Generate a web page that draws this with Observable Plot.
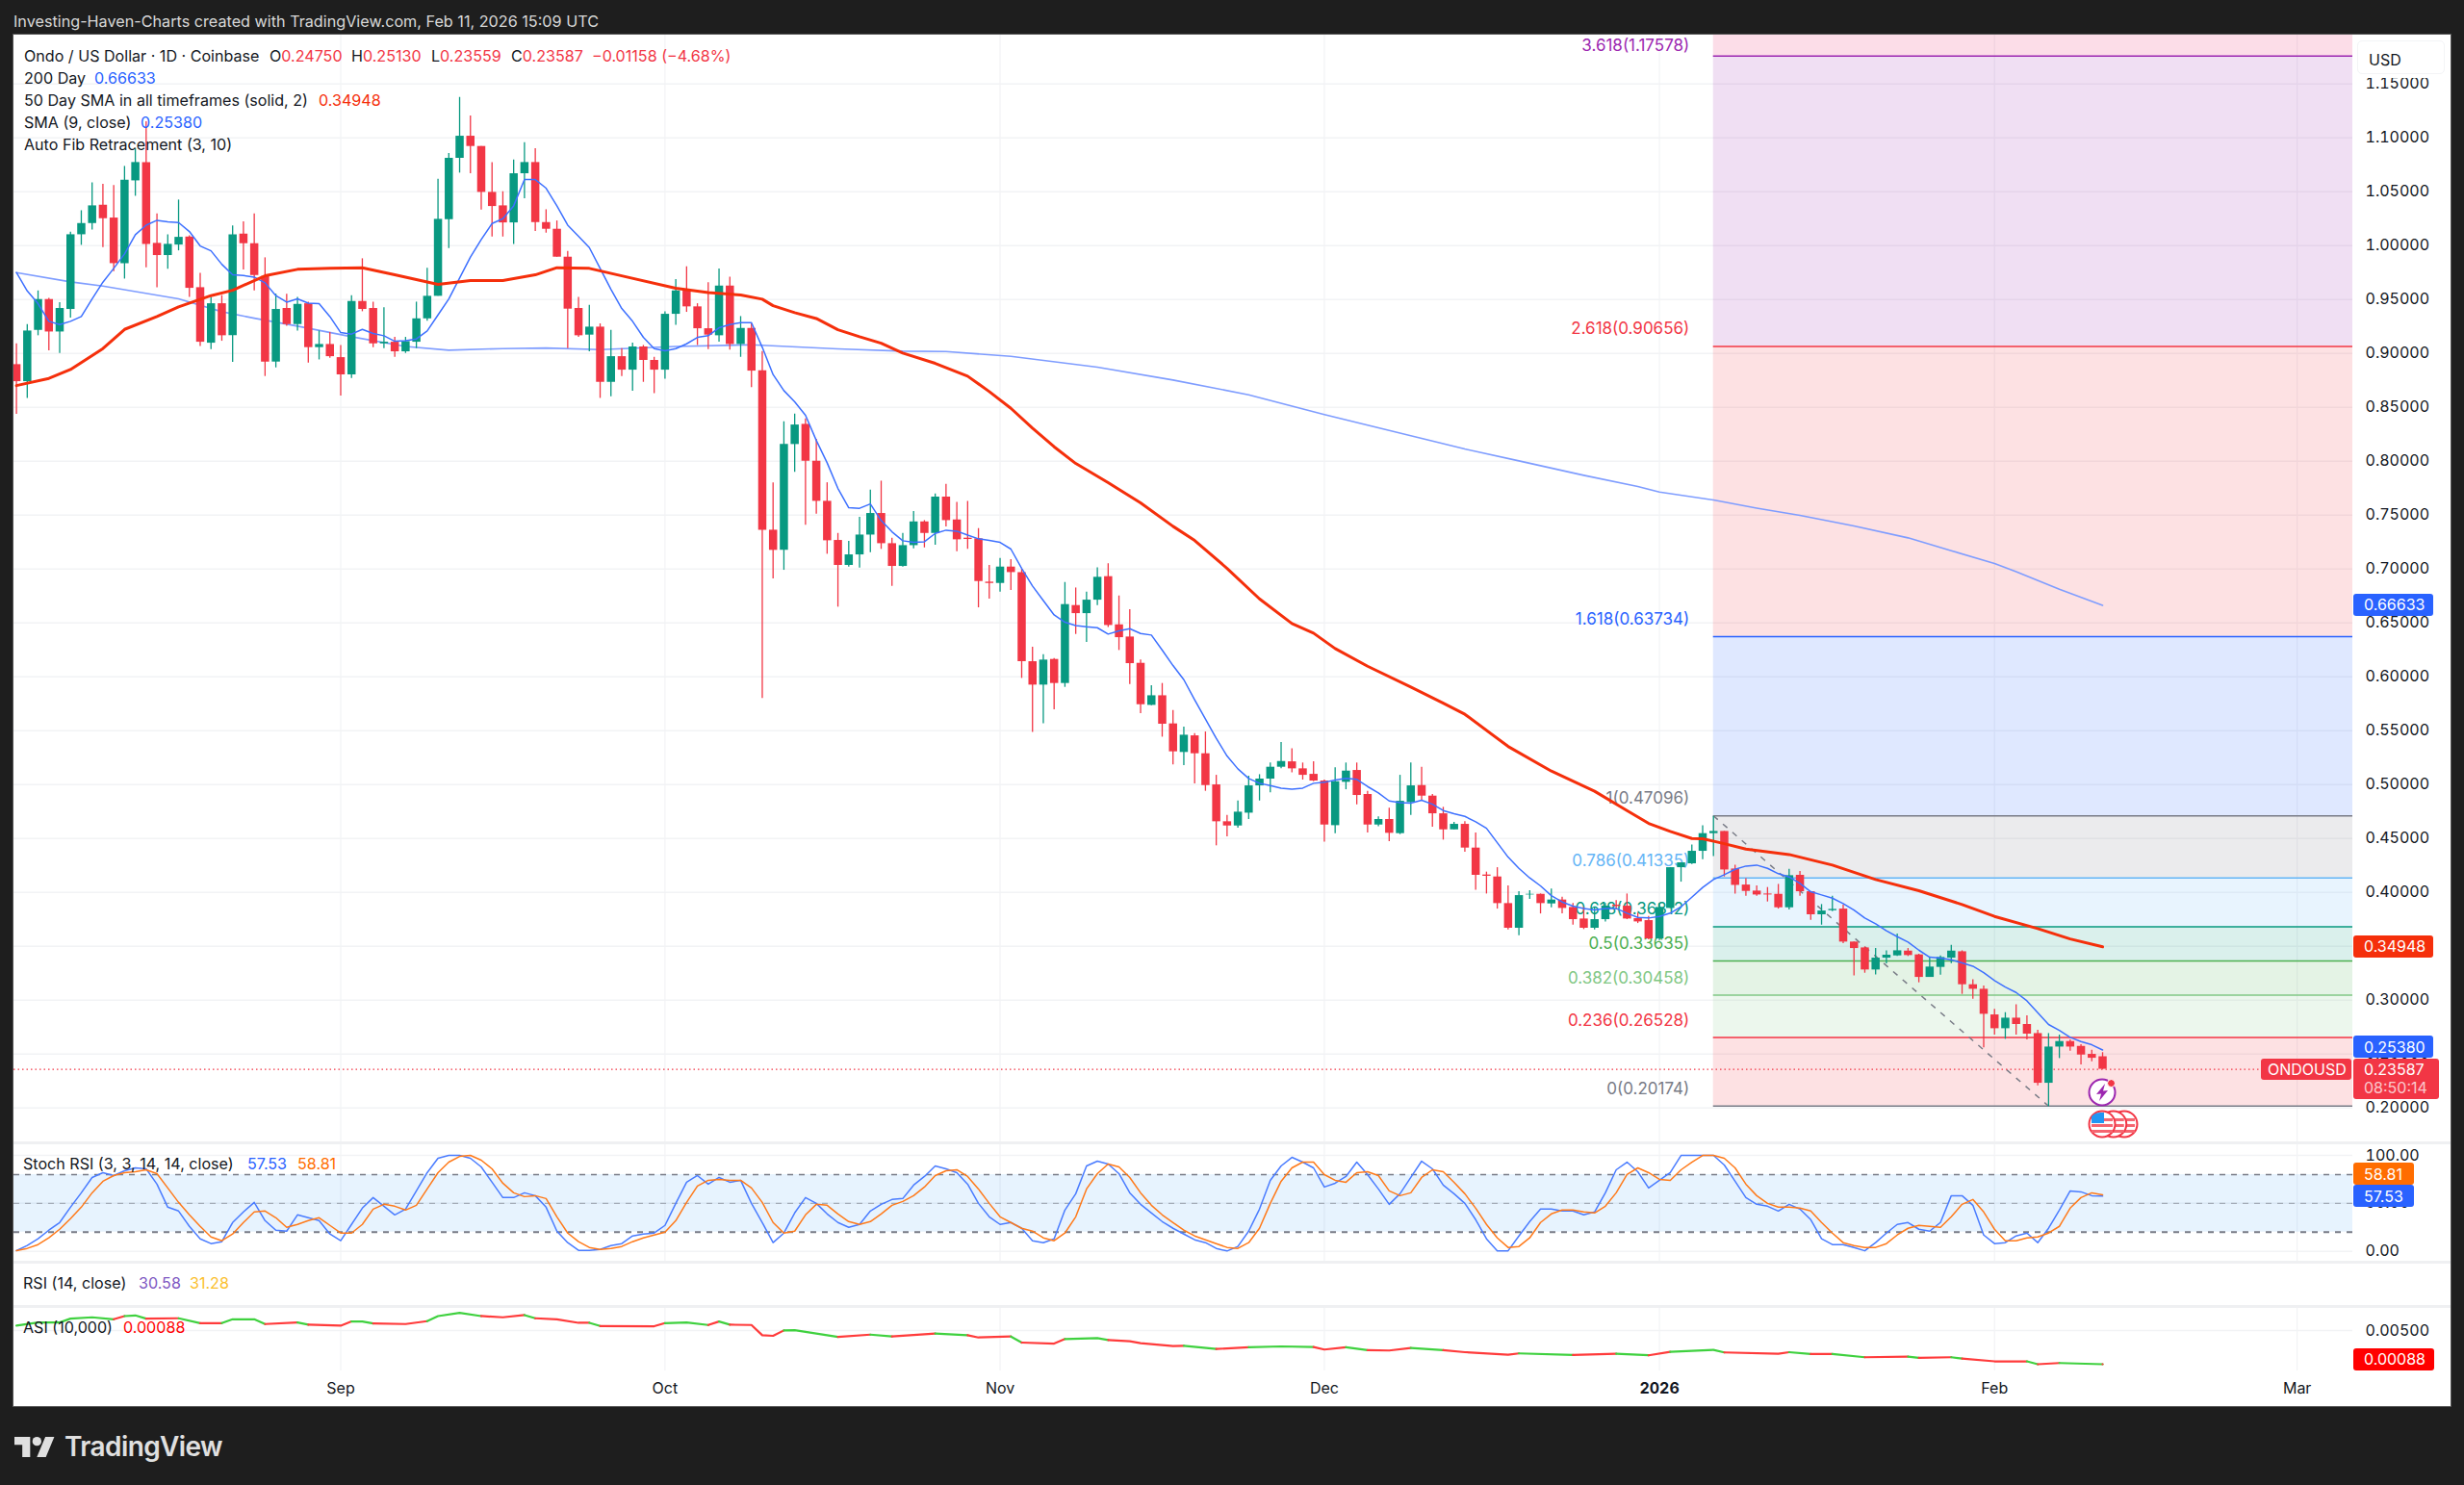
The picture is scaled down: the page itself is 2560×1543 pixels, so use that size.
<!DOCTYPE html>
<html><head><meta charset="utf-8">
<script src="https://cdn.jsdelivr.net/npm/d3@7"></script>
<script src="https://cdn.jsdelivr.net/npm/@observablehq/plot@0.6"></script>
<style>
html,body{margin:0;padding:0;background:#1e1e1e;}
#root{position:relative;width:2560px;height:1543px;overflow:hidden;background:#1e1e1e;font-family:Inter,"Liberation Sans",sans-serif;}
#frame{position:absolute;left:14px;top:36px;width:2532px;height:1425px;background:#fff;box-shadow:0 0 0 1px #555;}
.abs{position:absolute;white-space:nowrap;}
.lab{position:absolute;white-space:nowrap;transform:translateY(-50%);font-size:16.1px;color:#131722;line-height:1;}
.tag{position:absolute;white-space:nowrap;color:#fff;font-size:16px;border-radius:3px;display:flex;align-items:center;box-sizing:border-box;padding-left:11px;}
svg{display:block;}
.plot{position:absolute;}
</style></head><body><div id="root"><div id="frame"></div></div>
<script>
// ---------- daily candles, 2 Aug 2025 – 11 Feb 2026 ----------
const opens=[.8896,.8738,.9214,.95,.9199,.9408,1.0101,1.0205,1.0375,1.0256,
.9833,1.0601,1.0771,1.0021,.9908,1.0006,1.008,.961,.9095,.9461,
.9164,1.0107,1.0018,.9714,.892,.9417,.9268,.9461,.9054,.9083,
.8961,.8801,.9482,.9417,.9089,.9104,.9015,.9104,.9321,.953,
1.0241,1.081,1.1015,1.092,1.0494,1.0369,1.0211,1.0667,1.0771,1.0214,
1.0152,.9893,.9417,.917,.9244,.8732,.897,.8845,.906,.8935,
.8845,.9363,.958,.9432,.9229,.9164,.9625,.9083,.9232,.8839,
.736,.7173,.8155,.8342,.80,.7628,.7265,.7033,.7131,.7315,
.7515,.7235,.7024,.7217,.7437,.733,.7667,.7455,.7286,.728,
.6878,.6866,.7018,.6967,.614,.5923,.6161,.5938,.6661,.6586,
.6711,.6929,.6482,.6369,.6125,.5735,.5824,.5563,.5298,.5452,
.5286,.4997,.4655,.4616,.4735,.4988,.5051,.5161,.5211,.5146,
.5095,.5033,.4619,.5021,.5131,.4908,.4625,.4676,.4545,.4833,
.4991,.4893,.4729,.458,.4631,.4411,.4161,.4143,.3896,.3667,
.3976,.3982,.3893,.3929,.386,.3753,.3667,.3747,.3881,.3872,
.3756,.3738,.3568,.3851,.4229,.4265,.4381,.4545,.4565,.4217,
.4068,.4012,.3985,.3982,.3857,.4158,.4006,.3792,.383,.3845,
.3539,.3485,.328,.339,.3411,.3455,.342,.3211,.3304,.339,
.3449,.3143,.3101,.2863,.2735,.2833,.2774,.269,.2229,.2565,
.2616,.2571,.2497,.2475];
const highs=[.9089,.9268,.958,.9512,.947,1.0125,1.0324,1.0583,1.0568,1.0557,
1.0735,1.0899,1.1149,1.0295,1.0101,1.0423,1.0092,.9744,.952,.9536,
1.0182,1.022,1.0295,.9887,.955,.955,.952,.9476,.9208,.9193,
.9074,.9536,.9878,.9476,.9423,.9149,.9149,.9476,.9789,1.0616,
1.0854,1.1375,1.1202,1.092,1.0771,1.05,1.0795,1.0955,1.0899,1.0333,
1.0229,.9946,.952,.9446,.9274,.9214,.9045,.9095,.9074,.8964,
.9387,.9685,.9804,.9461,.9655,.9783,.9708,.9342,.9274,.9018,
.78,.8366,.8438,.8393,.8202,.78,.733,.7256,.7479,.7732,
.7815,.7286,.733,.7533,.7449,.7696,.7786,.7619,.7628,.7375,
.7033,.7098,.7086,.6997,.6274,.6205,.617,.6875,.6824,.6786,
.7012,.7048,.675,.6622,.6155,.5917,.5938,.5688,.5533,.5473,
.5488,.5086,.4714,.4848,.5077,.5092,.52,.539,.5333,.52,
.5211,.5042,.5155,.52,.52,.4938,.47,.478,.5086,.52,
.5161,.4908,.4789,.4649,.4655,.4551,.4188,.4229,.406,.4006,
.4015,.3985,.403,.3955,.3896,.386,.386,.3896,.3923,.3985,
.3807,.3777,.3896,.4229,.4274,.444,.4619,.4705,.4565,.4253,
.4128,.4059,.4045,.4074,.4214,.4193,.4006,.3887,.3964,.3881,
.3539,.3494,.3479,.3458,.3613,.3479,.3426,.339,.3411,.3509,
.3458,.319,.3131,.2914,.2884,.2958,.2854,.272,.269,.2676,
.2631,.2586,.2536,.2513];
const lows=[.8435,.8583,.9164,.9024,.90,.9327,1.0003,1.0146,.9982,.9759,
.969,1.0458,.9795,.961,.978,.9952,.952,.9065,.9036,.9113,
.8917,.9774,.958,.8786,.8866,.9253,.9208,.8911,.894,.8955,
.8604,.8768,.9387,.9054,.9045,.8964,.90,.9045,.9298,.953,
.9973,1.0673,1.0667,1.033,1.008,1.008,1.0012,1.0435,1.0131,1.0116,
.9893,.9045,.9149,.9015,.8583,.8598,.8786,.8649,.8732,.8628,
.8762,.9262,.9381,.9074,.9036,.9104,.903,.8964,.8682,.5798,
.6908,.6988,.7896,.7405,.7509,.7137,.6646,.7018,.7009,.7152,
.7182,.6839,.7018,.7188,.7196,.722,.739,.7161,.7182,.664,
.672,.6786,.6801,.5985,.5485,.5565,.5693,.5902,.6393,.6318,
.6661,.6458,.6244,.5929,.5658,.5732,.544,.5182,.5176,.5006,
.4938,.4432,.4515,.4595,.4676,.4848,.4923,.5146,.511,.5042,
.5027,.4467,.4545,.4952,.4812,.4551,.461,.447,.4536,.4714,
.4848,.4604,.4485,.458,.4372,.402,.3985,.3845,.3652,.3598,
.3935,.38,.3857,.38,.3696,.3655,.3652,.3726,.3836,.3747,
.3711,.356,.3554,.3851,.4095,.4259,.4304,.4333,.4143,.3985,
.3964,.3964,.3911,.3845,.3836,.3964,.3741,.3696,.3821,.3524,
.3226,.325,.3235,.3336,.3405,.3405,.3161,.3211,.3232,.3339,
.3054,.3009,.2557,.2676,.2637,.2676,.2631,.2205,.2012,.2458,
.2527,.2399,.2429,.23559];
const closes=[.8738,.9208,.95,.9199,.9417,1.0101,1.0205,1.0369,1.025,.9833,
1.0607,1.0771,1.0012,.9908,1.0012,1.0077,.9604,.9104,.9461,.9164,
1.0101,1.0018,.9723,.892,.9408,.9268,.9455,.9054,.9083,.897,
.8801,.9482,.9408,.9089,.9104,.9015,.911,.9321,.953,1.0244,
1.081,1.1015,1.092,1.0494,1.0363,1.0211,1.0667,1.0771,1.0214,1.0152,
.9893,.9411,.9164,.9244,.8732,.897,.8845,.906,.8935,.8845,
.9363,.958,.9432,.9229,.917,.9625,.9083,.9232,.8836,.736,
.7173,.8155,.8336,.80,.7628,.7262,.7033,.7131,.7315,.7515,
.7235,.7024,.7217,.7437,.733,.7667,.7449,.7271,.7274,.6884,
.6866,.7018,.6967,.614,.5923,.6155,.5938,.667,.6586,.6711,
.6923,.6476,.6363,.6122,.5741,.5824,.556,.5304,.5458,.5286,
.4991,.4655,.4616,.4744,.4988,.5051,.5161,.5214,.5146,.5086,
.5033,.4625,.5027,.5125,.4899,.4625,.4676,.4548,.4845,.4988,
.4893,.4729,.458,.4631,.4411,.4158,.4149,.3896,.3667,.397,
.3982,.3896,.3929,.3851,.3747,.3667,.3747,.3872,.3869,.3753,
.3726,.3568,.386,.4229,.4274,.4381,.4545,.4565,.4208,.4065,
.4009,.3976,.3976,.3857,.4155,.4006,.3792,.3827,.3842,.3539,
.3479,.328,.339,.3417,.3458,.3414,.3211,.3307,.3396,.3455,
.3143,.3101,.2869,.2735,.2833,.2774,.2685,.2229,.2565,.2616,
.2565,.2491,.2461,.23587];

// ---------- moving averages ----------
const sma9=[.975,.958,.9461,.9298,.9268,.9298,.9342,.9506,.9661,.9789,
.9923,1.0101,1.019,1.0235,1.022,1.0214,1.0131,.9997,.9952,.9827,
.9729,.9723,.9708,.9655,.9536,.9476,.9506,.9467,.9461,.9342,
.9193,.9179,.9223,.9185,.9164,.9113,.9119,.9134,.9208,.9357,
.9506,.97,.9893,1.0057,1.0205,1.025,1.0369,1.0613,1.0613,1.0533,
1.0369,1.019,1.0086,.9982,.9789,.9595,.9417,.9298,.9149,.9045,
.9024,.9045,.9089,.9149,.9164,.9238,.9268,.9286,.9286,.9057,
.8804,.8655,.8551,.8426,.8193,.7985,.7747,.7568,.7563,.7604,
.745,.7345,.7262,.7247,.7253,.733,.736,.7351,.7315,.728,
.7265,.7247,.7185,.7006,.6842,.6708,.6574,.6506,.6476,.6464,
.6455,.6396,.6426,.6446,.6402,.6387,.6247,.6104,.5973,.5786,
.5607,.5429,.5265,.5146,.5057,.5012,.4991,.4967,.4958,.4967,
.5012,.5021,.5042,.5057,.5048,.4982,.4923,.4848,.4833,.4827,
.4854,.4818,.4759,.4729,.4705,.4655,.4595,.4461,.4327,.4223,
.4134,.406,.397,.3911,.3872,.3851,.3836,.3851,.3851,.3807,
.3768,.3762,.3777,.3807,.3866,.3955,.4045,.4119,.4164,.4214,
.4244,.4253,.4223,.4173,.4143,.4083,.4006,.3976,.3946,.3896,
.3836,.3762,.3708,.3643,.3589,.3539,.3464,.3399,.339,.3375,
.3345,.3315,.3256,.3182,.3122,.3071,.2994,.2884,.2774,.272,
.2655,.2616,.2586,.2538];
const sma50Day=[-30,-27,-25,-22,-20,-17,-15,-12,-10,-7,-4,-1,2,5,9,12,15,18,20,23,26,31,34,37,39,40,42,44,46,48,50,52,55,58,60,62,64,66,68,71,74,77,79,82,85,88,90,92,95,99,102,104,108,112,116,119,121,123,125,126,128,130,134,138,142,146,150,153,157,160,163];
const sma50=[.8702,.8768,.8851,.9045,.9223,.9342,.9432,.9536,.9586,.972,.978,.9789,.9795,.9729,.964,.9676,.9676,.9729,.9795,.9789,.972,.9604,.9565,.9542,.9503,.9443,.9378,.9324,.922,.9155,.9095,.9003,.8908,.8789,.8646,.8491,.8307,.8134,.7979,.7801,.7613,.7396,.7265,.7006,.6723,.6494,.6405,.6262,.6098,.5905,.5756,.5652,.5354,.5125,.4938,.4759,.464,.4565,.45,.4497,.4452,.4402,.4351,.4253,.4119,.4015,.3887,.3777,.3664,.3568,.34948];
const sma200Day=[-30,-25,-22,-15,-11,-8,-4,1,6,10,15,19,24,31,38,46,52,56,62,70,77,84,91,100,104,109,115,120,122,127,131,135,140,145,149,153,155,159,163];
const sma200=[.975,.9664,.9625,.9506,.9387,.9327,.9253,.9155,.9065,.903,.9045,.905,.9036,.9065,.908,.9042,.9021,.9018,.8973,.8872,.8753,.8616,.8432,.8211,.8113,.8003,.7869,.7765,.7714,.764,.7565,.7497,.7399,.7289,.717,.7051,.6976,.6813,.66633];

// ---------- Auto Fib Retracement ----------
const fibLevel=["0","0.236","0.382","0.5","0.618","0.786","1","1.618","2.618","3.618"];
const fibPrice=[.20174,.26528,.30458,.33635,.36812,.41335,.47096,.63734,.90656,1.17578];
const fibColor=["#787B86","#F23645","#81C784","#4CAF50","#089981","#64B5F6","#787B86","#2962FF","#F23645","#9C27B0"];
const fibFill =["#F23645","#81C784","#4CAF50","#089981","#64B5F6","#787B86","#2962FF","#F23645","#9C27B0","#E91E63"];
const fibTrendDay=[127,158];

// ---------- Stoch RSI ----------
const stochK=[0.7,6,13,22,30,46,61,77,82,79,84,87,86,70,46,42,26,13,8,10,30,41,51,32,22,21,38,35,32,18,
11,28,45,56,47,38,44,63,82,97,100,100,97,88,72,56,56,61,58,46,21,9,1,1,2,6,8,16,18,19,27,50,72,79,
70,77,72,74,50,30,9,19,40,56,50,39,30,25,28,42,49,54,55,69,78,89,86,82,70,50,36,28,30,24,11,9,13,43,60,89,94,91,81,61,49,40,31,24,18,12,9,3,0.3,5,21,44,74,89,98,93,87,67,71,78,93,80,65,49,
60,77,94,86,69,60,50,33,13,0.5,0.5,16,31,44,44,42,42,38,41,61,85,93,83,66,74,82,100,100,100,100,90,73,56,49,47,42,49,44,33,13,7,7,4,0.5,9,19,28,30,23,21,30,58,58,48,17,8,9,16,19,9,24,43,63,62,58,57.53];
const stochD=[0.7,3,7,14,23,34,46,61,73,79,82,83,85,81,66,51,38,26,15,11,18,30,41,42,35,25,28,32,35,27,
19,19,28,44,49,47,43,48,65,82,93,99,100,95,86,71,61,57,58,55,36,19,10,4,2,3,5,10,14,17,20,32,51,68,
74,75,74,74,66,51,30,19,21,38,49,48,39,31,28,31,39,48,52,58,67,79,84,85,78,65,50,36,30,24,21,14,11,19,36,65,81,91,88,77,61,48,38,30,22,16,12,8,4,3,9,24,50,73,87,93,93,80,74,72,82,83,79,63,
58,61,77,85,83,72,60,45,28,14,4,5,14,30,39,43,43,41,40,47,61,80,87,82,75,74,85,93,100,100,97,87,70,58,50,46,46,45,42,30,19,9,6,4,4,8,17,24,27,26,25,36,49,54,41,23,11,11,14,15,19,26,45,56,61,58.81];

// ---------- ASI ----------
const asiDay=[-30,-28,-26,-25,-23,-21,-20,-19,-18,-15,-13,-11,-10,-8,-7,-4,-3,0,1,2,3,6,8,9,11,13,15,17,18,20,22,23,24,29,30,32,34,35,36,38,39,40,41,42,46,49,51,55,58,59,62,63,66,67,70,71,73,74,77,78,81,84,87,90,91,93,95,97,99,102,104,108,109,114,118,121,123,127,128,133,134,136,138,141,145,146,149,150,153,156,157,159,163];
const asiValue=[.00558,.00597,.00597,.00644,.0066,.00636,.00675,.00683,.00644,.00648,.00589,.00589,.00636,.00636,.00578,.00597,.0057,.00558,.00609,.00609,.00586,.00578,.00613,.00675,.00714,.00675,.0066,.00687,.00648,.00636,.00593,.00593,.00554,.00551,.00589,.00597,.00566,.00609,.0057,.00566,.00442,.00434,.005,.00504,.00422,.00449,.00426,.00461,.00442,.00414,.00426,.00352,.0034,.00395,.00407,.00383,.00368,.00344,.00309,.00313,.00274,.00294,.00305,.00298,.00267,.00294,.00259,.00255,.00286,.00259,.00235,.00204,.0022,.002,.00216,.00197,.00239,.00263,.00232,.00216,.00235,.00212,.00212,.00173,.00181,.00165,.00173,.00157,.00123,.00123,.00088,.00103,.00088];

// ---------- axes ----------
const priceTicks=[.2,.25,.3,.35,.4,.45,.5,.55,.6,.65,.7,.75,.8,.85,.9,.95,1,1.05,1.1,1.15];
const stochTicks=[0,50,100];
const asiTicks=[.005];
const monthDay=[0,30,61,91,122,153,181];            // days after 1 Sep 2025
const monthLabel=["Sep","Oct","Nov","Dec","2026","Feb","Mar"];

// ---------- helpers ----------
const sep1=Date.UTC(2025,8,1);
const at=d=>new Date(sep1+d*864e5);
const dayDomain=[at(-30.23),at(186.15)];
const FONT='Inter,"Liberation Sans",sans-serif';
const INK="#131722", GRID="#f2f3f5";
const GREEN="#089981", RED="#F23645";
const W=2532, MR=102;
const candles=opens.map((o,i)=>({d:at(i-30),o,h:highs[i],l:lows[i],c:closes[i],col:closes[i]>=o?GREEN:RED}));
const months=monthDay.map((d,i)=>({date:at(d),label:monthLabel[i]}));
const xOpt={domain:dayDomain,type:"utc",axis:null};
const root=document.getElementById("root");
function place(svg,top){svg.classList.add("plot");svg.style.left="14px";svg.style.top=top+"px";svg.style.background="transparent";svg.style.fontFamily=FONT;root.appendChild(svg);return svg;}
function lab(x,y,html,size){const d=document.createElement("div");d.className="lab";d.style.left=x+"px";d.style.top=y+"px";if(size)d.style.fontSize=size+"px";d.innerHTML=html;root.appendChild(d);return d;}
function tag(x,top,w,h,col,html){const d=document.createElement("div");d.className="tag";d.style.cssText=`left:${x}px;top:${top}px;width:${w}px;height:${h}px;background:${col}`;d.innerHTML=html;root.appendChild(d);return d;}
function bar(top,h,col){const d=document.createElement("div");d.className="abs";d.style.cssText=`left:14px;top:${top}px;width:2532px;height:${h}px;background:${col}`;root.appendChild(d);}

// ---------- main pane ----------
const fibBands=fibLevel.map((l,i)=>({y1:fibPrice[i],y2:i+1<fibPrice.length?fibPrice[i+1]:1.1953,fill:fibFill[i]}));
const fibLines=fibLevel.map((l,i)=>({y:fibPrice[i],color:fibColor[i],text:`${l}(${fibPrice[i].toFixed(5)})`}));
const fibStart=at(fibTrendDay[0]), fibEnd=dayDomain[1];
const iconDay=163, boltPrice=.2140, flagPrice=.1846;
function icons(index,{x,y}){
  const g=d3.create("svg:g");
  [2,1,0].forEach(k=>{
    const f=g.append("g").attr("transform",`translate(${x(at(iconDay+k))+(k?0.5:0)},${y(flagPrice)})`);
    f.append("circle").attr("r",13.5).attr("fill","#fff").attr("stroke",RED).attr("stroke-width",2);
    [-6,0,6].forEach(v=>f.append("rect").attr("x",-11).attr("width",22).attr("y",v).attr("height",3).attr("fill","#f5646f"));
    if(k===0){f.append("path").attr("d","M-11,-8 A13,13 0 0 1 -1,-12 L2,-12 L2,-1 L-11,-1 Z").attr("fill","#2196F3");}
  });
  const b=g.append("g").attr("transform",`translate(${x(at(iconDay))},${y(boltPrice)})`);
  b.append("circle").attr("r",13.5).attr("fill","#fff").attr("stroke","#9C27B0").attr("stroke-width",2);
  b.append("path").attr("d","M3,-9 L-6,2 L-1,1.5 L-3,9 L6,-2 L1,-1.5 Z").attr("fill","#9C27B0");
  b.append("circle").attr("cx",9.5).attr("cy",-9.5).attr("r",4).attr("fill",RED).attr("stroke","#fff").attr("stroke-width",1);
  return g.node();
}
const mainPlot=Plot.plot({
  width:W,height:1151,marginLeft:0,marginTop:0,marginBottom:0,marginRight:MR,
  x:xOpt,y:{domain:[.1676,1.1953],axis:null},style:{background:"transparent",fontFamily:FONT},
  marks:[
    Plot.ruleY(priceTicks,{stroke:GRID,strokeWidth:1.5}),
    Plot.ruleX(months,{x:"date",stroke:GRID,strokeWidth:1.2}),
    Plot.rect(fibBands,{x1:()=>fibStart,x2:()=>fibEnd,y1:"y1",y2:"y2",fill:"fill",fillOpacity:.15}),
    Plot.ruleY(fibLines,{x1:()=>fibStart,x2:()=>fibEnd,y:"y",stroke:"color",strokeWidth:1.5}),
    Plot.text(fibLines.slice(0,-1),{x:()=>fibStart,y:"y",text:"text",fill:"color",textAnchor:"end",dx:-25,dy:-18,fontSize:17}),
    Plot.text(fibLines.slice(-1),{x:()=>fibStart,y:"y",text:"text",fill:"color",textAnchor:"end",dx:-25,dy:-11,fontSize:17}),
    Plot.axisY({anchor:"right",ticks:priceTicks,tickSize:0,tickPadding:13,tickFormat:d3.format(".5f"),fontSize:16,label:null,color:INK,fill:INK}),
    Plot.link([0],{x1:()=>at(fibTrendDay[0]),x2:()=>at(fibTrendDay[1]),y1:()=>fibPrice[6],y2:()=>fibPrice[0],stroke:"#787B86",strokeWidth:1.5,strokeDasharray:"6 7"}),
    Plot.ruleY([closes[closes.length-1]],{stroke:RED,strokeWidth:1.3,strokeDasharray:"1.5 3"}),
    Plot.line(sma200,{x:(d,i)=>at(sma200Day[i]),y:d=>d,stroke:"#7f9dff",strokeWidth:1.6}),
    Plot.ruleX(candles,{x:"d",y1:"l",y2:"h",stroke:{value:"col",scale:null},strokeWidth:1.3}),
    Plot.ruleX(candles,{x:"d",y1:"o",y2:"c",stroke:{value:"col",scale:null},strokeWidth:8.5}),
    Plot.line(sma9,{x:(d,i)=>at(i-30),y:d=>d,stroke:"#3d70ff",strokeWidth:1.5}),
    Plot.line(sma50,{x:(d,i)=>at(sma50Day[i]),y:d=>d,stroke:"#F52F0B",strokeWidth:3}),
    icons
  ]
});
place(mainPlot,36);

// ---------- Stoch RSI pane ----------
const stochPlot=Plot.plot({
  width:W,height:124,marginLeft:0,marginTop:0,marginBottom:0,marginRight:MR,
  x:xOpt,y:{domain:[-11.4,113.1],axis:null},style:{background:"transparent",fontFamily:FONT},
  marks:[
    Plot.ruleY(stochTicks,{stroke:GRID,strokeWidth:1.5}),
    Plot.ruleX(months,{x:"date",stroke:GRID,strokeWidth:1.2}),
    Plot.rect([0],{x1:()=>dayDomain[0],x2:()=>dayDomain[1],y1:()=>20,y2:()=>80,fill:"#2196F3",fillOpacity:.11}),
    Plot.ruleY([80],{stroke:"#787B86",strokeWidth:1.4,strokeDasharray:"6 6"}),
    Plot.ruleY([50],{stroke:"#787B86",strokeOpacity:.55,strokeWidth:1.4,strokeDasharray:"6 6"}),
    Plot.ruleY([20],{stroke:"#787B86",strokeWidth:1.8,strokeDasharray:"6 6"}),
    Plot.axisY({anchor:"right",ticks:stochTicks,tickSize:0,tickPadding:13,tickFormat:d3.format(".2f"),fontSize:16,label:null,fill:INK}),
    Plot.line(stochK,{x:(d,i)=>at(i-30),y:d=>d,stroke:"#4a7cff",strokeWidth:1.5}),
    Plot.line(stochD,{x:(d,i)=>at(i-30),y:d=>d,stroke:"#FF7A1A",strokeWidth:1.5})
  ]
});
place(stochPlot,1187);

// ---------- ASI pane with the time axis ----------
const asiRows=asiValue.map((v,i)=>({d:at(asiDay[i]),v,col:i&&v<asiValue[i-1]?"#ff3b3b":"#3fd13f"}));
const asiPlot=Plot.plot({
  width:W,height:104,marginLeft:0,marginTop:0,marginBottom:37,marginRight:MR,
  x:xOpt,y:{domain:[.00006,.00792],axis:null},style:{background:"transparent",fontFamily:FONT},
  marks:[
    Plot.ruleY(asiTicks,{stroke:GRID,strokeWidth:1.5}),
    Plot.ruleX(months,{x:"date",stroke:GRID,strokeWidth:1.2}),
    Plot.axisY({anchor:"right",ticks:asiTicks,tickSize:0,tickPadding:13,tickFormat:d3.format(".5f"),fontSize:16,label:null,fill:INK}),
    Plot.line(asiRows,{x:"d",y:"v",stroke:{value:"col",scale:null},z:null,strokeWidth:2.2}),
    Plot.axisX({anchor:"bottom",ticks:months.filter(m=>m.label!=="2026").map(m=>m.date),tickSize:0,tickPadding:12,fontSize:16,label:null,fill:INK,tickFormat:d=>months.find(m=>+m.date===+d).label}),
    Plot.axisX({anchor:"bottom",ticks:months.filter(m=>m.label==="2026").map(m=>m.date),tickSize:0,tickPadding:12,fontSize:16,fontWeight:"bold",label:null,fill:INK,tickFormat:d=>months.find(m=>+m.date===+d).label})
  ]
});
place(asiPlot,1357);

// ---------- pane separators ----------
bar(1186,3,"#eff0f2");bar(1309.5,3,"#eff0f2");bar(1355.5,3,"#eff0f2");

// ---------- header, legends ----------
const hd=lab(14,21.5,"Investing-Haven-Charts created with TradingView.com, Feb 11, 2026 15:09 UTC",16.2);hd.style.color="#d8d8d8";
const c=(col,t)=>`<span style="color:${col}">${t}</span>`;
lab(25,58,"Ondo / US Dollar · 1D · Coinbase");
lab(280,58,"O"+c(RED,"0.24750"));
lab(365,58,"H"+c(RED,"0.25130"));
lab(448,58,"L"+c(RED,"0.23559"));
lab(531,58,"C"+c(RED,"0.23587"));
lab(615,58,c(RED,"−0.01158 (−4.68%)"));
lab(25,81,"200 Day");lab(98,81,c("#2962FF","0.66633"));
lab(25,104,"50 Day SMA in all timeframes (solid, 2)");lab(331,104,c("#F52F0B","0.34948"));
lab(25,127,"SMA (9, close)");lab(146,127,c("#2962FF","0.25380"));
lab(25,150,"Auto Fib Retracement (3, 10)");
lab(24,1209,"Stoch RSI (3, 3, 14, 14, close)");lab(257,1209,c("#2962FF","57.53"));lab(309,1209,c("#FF6D00","58.81"));
lab(24,1333,"RSI (14, close)");lab(144,1333,c("#7E57C2","30.58"));lab(197,1333,c("#FBC02D","31.28"));
lab(24,1379,"ASI (10,000)");lab(128,1379,c("#FF0000","0.00088"));

// ---------- price tags, placed through the y scales ----------
const yMain=v=>36+mainPlot.scale("y").apply(v), yStoch=v=>1187+stochPlot.scale("y").apply(v);
tag(2445,yMain(.66633)-11.5,83,23,"#2962FF","0.66633");
tag(2445,yMain(.34948)-11.5,83,23,"#F52F0B","0.34948");
tag(2445,yMain(.2538)-14,83,23,"#2962FF","0.25380");
const pt=tag(2445,yMain(closes[193])-10.7,89,42,RED,'<div style="line-height:19px">0.23587<br><span style="opacity:.72">08:50:14</span></div>');
tag(2349,yMain(closes[193])-10.7,94,22.5,RED,"ONDOUSD").style.padding="0 0 0 7px";
tag(2445,yStoch(57.53)-11,63,22.5,"#2962FF","57.53");
tag(2445,yStoch(57.53)-34,63,22.5,"#FF6D00","58.81");
tag(2445,1401,84,22.7,"#FF0000","0.00088");

// ---------- currency button ----------
const usdBg=document.createElement("div");usdBg.className="abs";usdBg.style.cssText="left:2447px;top:38px;width:97px;height:43px;background:#fff";root.appendChild(usdBg);
const usd=document.createElement("div");usd.className="abs";usd.style.cssText="left:2449px;top:42px;width:91px;height:35px;box-sizing:border-box;border:1px solid #f3f4f6;border-radius:5px;background:#fff;font-size:16px;color:#131722;padding:9px 0 0 11px";usd.textContent="USD";root.appendChild(usd);

// ---------- TradingView mark ----------
const logo=document.createElement("div");logo.className="abs";logo.style.cssText="left:15px;top:1486px;display:flex;align-items:center;color:#e0e0e0";
logo.innerHTML='<svg width="42" height="21" viewBox="0 4 36 18"><path fill="#e0e0e0" d="M14 22H7V11H0V4h14v18zM28 22h-8l7.5-18h8L28 22z"/><circle fill="#e0e0e0" cx="20" cy="8" r="4"/></svg><span style="font-size:28px;font-weight:600;margin-left:10px;letter-spacing:-.6px">TradingView</span>';
root.appendChild(logo);
</script></body></html>
